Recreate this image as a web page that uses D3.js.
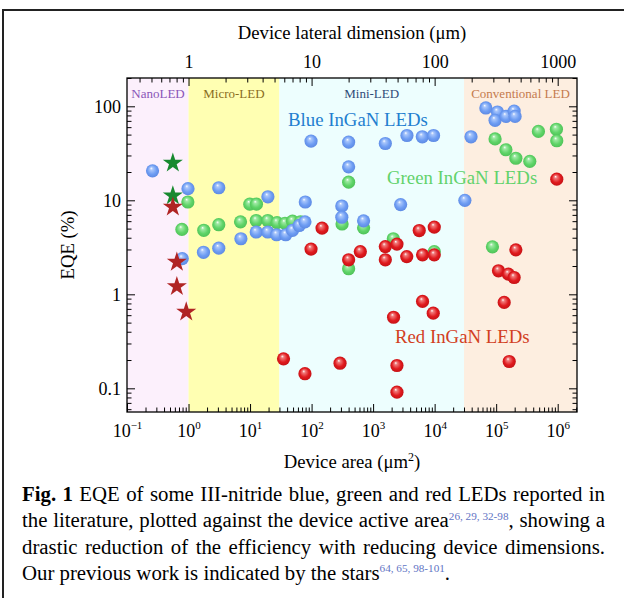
<!DOCTYPE html>
<html>
<head>
<meta charset="utf-8">
<script src="https://cdn.jsdelivr.net/npm/d3@7"></script>
<style>
  body { margin: 0; background: #fff; }
  svg { display: block; font-family: "Liberation Serif", "Times New Roman", serif; }
</style>
</head>
<body>
<svg id="fig" width="624" height="598"></svg>
<script>
// ---- data (area in um^2, EQE in %) ----
const blueArea = [0.26, 0.98, 3.1, 19.5, 98, 400, 1580, 3550, 6300, 9600, 39000, 400, 79, 310, 310, 700,
    2800, 31000, 68000, 105000, 96000, 144000, 196000, 203000, 0.79, 1.75, 3.1, 7.1, 12.6, 19.4, 27, 38, 49, 63, 78];
const blueEQE = [20.6, 13.3, 13.6, 10.9, 42.7, 41.6, 40.2, 48.9, 47.4, 48.9, 47.4, 22.7, 9.6, 8.7, 6.6, 6.05,
    9.0, 10, 96, 87, 71, 78, 89, 78, 2.4, 2.8, 3.1, 3.9, 4.6, 4.6, 4.3, 4.3, 4.8, 5.4, 5.9];

const greenArea = [0.975, 0.78, 1.77, 3.1, 7.0, 9.9, 12.7, 12.6, 19.4, 27.5, 37, 49, 66, 400, 313, 700,
    2130, 9860, 400, 486000, 953000, 966000, 96000, 144000, 209000, 352000, 87000];
const greenEQE = [9.6, 4.9, 4.8, 5.5, 5.9, 9.1, 9.1, 6.1, 6.1, 5.8, 5.7, 6.0, 5.9, 15.6, 5.6, 5.1,
    3.9, 2.85, 1.87, 54, 57, 43, 45, 34.5, 28, 26, 3.2];

const redArea = [35, 148, 98, 620, 400, 1580, 2440, 1580, 3520, 6360, 9860, 5620, 9860, 6360, 9490, 2150,
    78, 290, 2440, 2440, 209000, 109000, 158000, 196000, 135000, 163000, 966000];
const redEQE = [0.206, 5.06, 3.03, 2.85, 2.33, 3.22, 3.42, 2.33, 2.52, 2.63, 2.63, 4.77, 5.19, 0.84, 0.63, 0.57,
    0.143, 0.185, 0.175, 0.091, 2.97, 1.78, 1.64, 1.51, 0.82, 0.193, 16.8];

// our previous work (stars)
const starGreenArea = [0.556, 0.556];
const starGreenEQE = [24.9, 11.2];
const starRedArea = [0.556, 0.646, 0.646, 0.918];
const starRedEQE = [8.5, 2.2, 1.21, 0.65];

// device classes, split on area
const regionNames = ["NanoLED", "Micro-LED", "Mini-LED", "Conventional LED"];
const regionEdges = [0.1, 1, 30, 30000, 2.06e6];

const yTicks = [0.1, 1, 10, 100];
const xTicks = [1e-1, 1e0, 1e1, 1e2, 1e3, 1e4, 1e5, 1e6];
const lateralTicks = [1, 10, 100, 1000];

// ---- layout ----
const plot = { left: 127, right: 577, top: 78, bottom: 412 };

const x = d3.scaleLog().domain([regionEdges[0], regionEdges[4]]).range([plot.left, plot.right]);
const xl = d3.scaleLog().domain(x.domain().map(Math.sqrt)).range(x.range());
const y = d3.scaleLog().domain([0.056, 200]).range([plot.bottom, plot.top]);

const svg = d3.select("#fig");

// frame of the figure panel
svg.append("path")
    .attr("d", "M2,10H624M3,10V598")
    .attr("fill", "none")
    .attr("stroke", "#222")
    .attr("stroke-width", 2);

// ---- shading for device classes ----
const regionFill = ["#fcf0fc", "#ffffb2", "#edfefe", "#fdeee0"];
const regionText = ["#8a55b8", "#8a6d1e", "#2f4a78", "#c47b4e"];

svg.append("g")
    .selectAll("rect")
    .data(regionNames)
    .join("rect")
    .attr("x", (d, i) => x(regionEdges[i]))
    .attr("width", (d, i) => x(regionEdges[i + 1]) - x(regionEdges[i]))
    .attr("y", plot.top)
    .attr("height", plot.bottom - plot.top)
    .attr("fill", (d, i) => regionFill[i]);

svg.append("g")
    .attr("font-size", 13)
    .attr("text-anchor", "middle")
    .selectAll("text")
    .data(regionNames)
    .join("text")
    .attr("x", (d, i) => i === 0 ? x(regionEdges[0]) + 31 : (x(regionEdges[i]) + x(regionEdges[i + 1])) / 2)
    .attr("y", 98)
    .attr("fill", (d, i) => regionText[i])
    .text(d => d);

// ---- sphere gradients ----
const defs = svg.append("defs");
const sphere = (id, light, base, dark) => {
    const g = defs.append("radialGradient").attr("id", id)
        .attr("cx", "50%").attr("cy", "50%").attr("r", "55%")
        .attr("fx", "40%").attr("fy", "30%");
    g.append("stop").attr("offset", "0%").attr("stop-color", "#ffffff");
    g.append("stop").attr("offset", "20%").attr("stop-color", light);
    g.append("stop").attr("offset", "62%").attr("stop-color", base);
    g.append("stop").attr("offset", "100%").attr("stop-color", dark);
};
sphere("gBlue", "#a9c6fb", "#6e9df3", "#5a86e0");
sphere("gGreen", "#9fe9a4", "#5fd468", "#4cbf55");
sphere("gRed", "#f07a7a", "#e01a1e", "#c01014");

const dots = (xs, ys, fill) => svg.append("g")
    .selectAll("circle")
    .data(xs.map((a, i) => [a, ys[i]]))
    .join("circle")
    .attr("cx", d => x(d[0]))
    .attr("cy", d => y(d[1]))
    .attr("r", 6.6)
    .attr("fill", fill);

dots(greenArea, greenEQE, "url(#gGreen)");
dots(blueArea, blueEQE, "url(#gBlue)");
dots(redArea, redEQE, "url(#gRed)");

const star = d3.symbol().type(d3.symbolStar).size(125);
const stars = (xs, ys, fill) => svg.append("g")
    .selectAll("path")
    .data(xs.map((a, i) => [a, ys[i]]))
    .join("path")
    .attr("transform", d => `translate(${x(d[0])},${y(d[1])})`)
    .attr("d", star)
    .attr("fill", fill);

stars(starGreenArea, starGreenEQE, "#17892f");
stars(starRedArea, starRedEQE, "#b02424");

// ---- series labels ----
const labels = [
    { t: "Blue InGaN LEDs", x: 288, y: 126, c: "#1f7fd0" },
    { t: "Green InGaN LEDs", x: 387, y: 184, c: "#62d26b" },
    { t: "Red InGaN LEDs", x: 395, y: 343, c: "#d2401f" }
];
svg.append("g")
    .attr("font-size", 18.8)
    .selectAll("text")
    .data(labels)
    .join("text")
    .attr("x", d => d.x)
    .attr("y", d => d.y)
    .attr("fill", d => d.c)
    .text(d => d.t);

// ---- axes ----
const minorX = x.ticks().filter(v => !xTicks.includes(v));
const minorXl = xl.ticks().filter(v => !lateralTicks.includes(v));
const minorY = y.ticks().filter(v => !yTicks.includes(v));

const axisGroup = (axis, tx, ty) => {
    const g = svg.append("g")
        .attr("transform", `translate(${tx},${ty})`)
        .call(axis)
        .attr("font-family", null)
        .attr("font-size", 18);
    g.select(".domain").remove();
    g.selectAll(".tick line").attr("stroke", "#000");
    g.selectAll(".tick text").attr("fill", "#000");
    return g;
};

// bottom
axisGroup(d3.axisBottom(x).tickValues(minorX).tickSize(-4.5).tickFormat(""), 0, plot.bottom);
const bottom = axisGroup(d3.axisBottom(x).tickValues(xTicks).tickSize(-8).tickPadding(12).tickFormat(""), 0, plot.bottom);
bottom.selectAll(".tick text").each(function (d) {
    const t = d3.select(this);
    const e = Math.round(Math.log10(d));
    t.append("tspan").text("10");
    t.append("tspan").attr("font-size", 11).attr("dy", "-0.75em")
        .text(e < 0 ? "\u2212" + (-e) : e);
});

// top
axisGroup(d3.axisTop(xl).tickValues(minorXl).tickSize(-4.5).tickFormat(""), 0, plot.top);
axisGroup(d3.axisTop(xl).tickValues(lateralTicks).tickSize(-8).tickPadding(10).tickFormat(d3.format("d")), 0, plot.top);

// left
axisGroup(d3.axisLeft(y).tickValues(minorY).tickSize(-4.5).tickFormat(""), plot.left, 0);
axisGroup(d3.axisLeft(y).tickValues(yTicks).tickSize(-8).tickPadding(6).tickFormat(d => String(d)), plot.left, 0);

// right
axisGroup(d3.axisRight(y).tickValues(minorY).tickSize(-4.5).tickFormat(""), plot.right, 0);
axisGroup(d3.axisRight(y).tickValues(yTicks).tickSize(-8).tickFormat(""), plot.right, 0);

svg.append("rect")
    .attr("x", plot.left).attr("y", plot.top)
    .attr("width", plot.right - plot.left).attr("height", plot.bottom - plot.top)
    .attr("fill", "none").attr("stroke", "#000").attr("stroke-width", 1.3);

// axis titles
const titleSize = 18.7;
const xTitle = svg.append("text")
    .attr("x", (plot.left + plot.right) / 2).attr("y", 468)
    .attr("text-anchor", "middle").attr("font-size", titleSize);
xTitle.append("tspan").text("Device area (\u03bcm");
xTitle.append("tspan").attr("font-size", 12).attr("dy", "-0.6em").text("2");
xTitle.append("tspan").attr("dy", "0.4em").text(")");

svg.append("text")
    .attr("x", (plot.left + plot.right) / 2).attr("y", 39)
    .attr("text-anchor", "middle").attr("font-size", titleSize)
    .text("Device lateral dimension (\u03bcm)");

svg.append("text")
    .attr("transform", `translate(74,${(plot.top + plot.bottom) / 2}) rotate(-90)`)
    .attr("text-anchor", "middle").attr("font-size", titleSize)
    .text("EQE (%)");

// ---- caption, justified like the journal text ----
const refColor = "#5f74c4";
const captionLines = [
    { justify: true, words: [[["Fig.", "b"]], [["1", "b"]], ["EQE"], ["of"], ["some"], ["III-nitride"], ["blue,"], ["green"], ["and"], ["red"], ["LEDs"], ["reported"], ["in"]] },
    { justify: true, words: [["the"], ["literature,"], ["plotted"], ["against"], ["the"], ["device"], ["active"], ["area", ["26, 29, 32-98", "s"], ","], ["showing"], ["a"]] },
    { justify: true, words: [["drastic"], ["reduction"], ["of"], ["the"], ["efficiency"], ["with"], ["reducing"], ["device"], ["dimensions."]] },
    { justify: false, words: [["Our"], ["previous"], ["work"], ["is"], ["indicated"], ["by"], ["the"], ["stars", ["64, 65, 98-101", "s"], "."]] }
];
const capLeft = 22, capRight = 605, capTop = 501, capStep = 26.3, capSize = 20.8;

const cap = svg.append("g").attr("font-size", capSize).attr("fill", "#000");
captionLines.forEach((line, li) => {
    const yy = capTop + li * capStep;
    const nodes = line.words.map(w => {
        const t = cap.append("text").attr("y", yy);
        w.forEach(run => {
            const txt = typeof run === "string" ? run : run[0];
            const kind = typeof run === "string" ? "" : run[1];
            const s = t.append("tspan").text(txt);
            if (kind === "b") s.attr("font-weight", "bold");
            if (kind === "s") s.attr("font-size", 11.2).attr("fill", refColor).attr("dy", -7.5);
            else if (t.selectAll("tspan").size() > 1) s.attr("dy", 7.5);
        });
        return t;
    });
    const widths = nodes.map(n => n.node().getComputedTextLength());
    const total = d3.sum(widths);
    const gap = line.justify ? (capRight - capLeft - total) / (nodes.length - 1) : capSize * 0.25;
    let xx = capLeft;
    nodes.forEach((n, i) => {
        n.attr("x", xx);
        xx += widths[i] + gap;
    });
});
</script>
</body>
</html>
